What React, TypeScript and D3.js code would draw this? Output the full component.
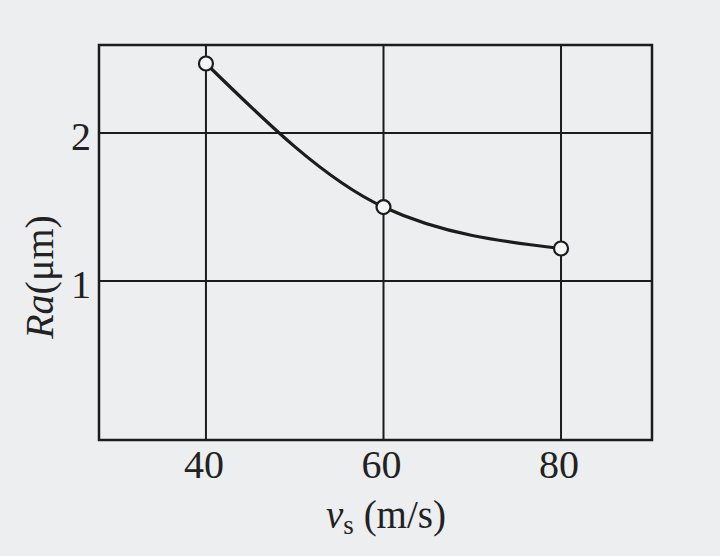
import React from "react";
import * as d3 from "d3";

const speeds = [40, 60, 80];
const roughness = [2.47, 1.5, 1.22];
const xTicks = [40, 60, 80];
const yTicks = [1, 2];

const W = 720;
const H = 556;
const left = 99, right = 652, top = 45, bottom = 440;

export default function App() {
  React.useEffect(() => {
    document.body.style.margin = "0";
  }, []);
  const x = d3.scaleLinear().domain([27.95, 90.25]).range([left, right]);
  const y = d3.scaleLinear().domain([-0.074, 2.595]).range([bottom, top]);
  const pts = speeds.map((s, i) => [s, roughness[i]] as [number, number]);
  const line = d3
    .line<[number, number]>()
    .x((d) => x(d[0]))
    .y((d) => y(d[1]))
    .curve(d3.curveMonotoneX);
  const ink = "#1c1c1c";
  const txt = "#222";
  const font = "'Liberation Serif', 'DejaVu Serif', serif";
  return (
    <svg width={W} height={H} style={{ display: "block", background: "#eceeef" }}>
      <rect x={0} y={0} width={W} height={H} fill="#eceeef" />
      {xTicks.map((t) => (
        <line key={"gx" + t} x1={x(t)} x2={x(t)} y1={top} y2={bottom} stroke={ink} strokeWidth={2} />
      ))}
      {yTicks.map((t) => (
        <line key={"gy" + t} x1={left} x2={right} y1={y(t)} y2={y(t)} stroke={ink} strokeWidth={2} />
      ))}
      <rect x={left} y={top} width={right - left} height={bottom - top} fill="none" stroke={ink} strokeWidth={2.5} />
      <path d={line(pts) || ""} fill="none" stroke={ink} strokeWidth={3.2} />
      {pts.map((p, i) => (
        <circle key={"c" + i} cx={x(p[0])} cy={y(p[1])} r={7} fill="#f4f5f5" stroke={ink} strokeWidth={2.2} />
      ))}
      {xTicks.map((t) => (
        <text key={"tx" + t} x={x(t) - 2} y={478} textAnchor="middle" fontFamily={font} fontSize={40} fill={txt}>
          {t}
        </text>
      ))}
      {yTicks.map((t) => (
        <text key={"ty" + t} x={91} y={y(t) + 3} dy="0.35em" textAnchor="end" fontFamily={font} fontSize={40} fill={txt}>
          {t}
        </text>
      ))}
      <text x={386} y={528} textAnchor="middle" fontFamily={font} fontSize={39} fill={txt}>
        <tspan fontStyle="italic">v</tspan>
        <tspan fontSize={27} dy={6}>s</tspan>
        <tspan dy={-6}> (m/s)</tspan>
      </text>
      <text
        transform={`translate(53, 277) rotate(-90)`}
        textAnchor="middle"
        fontFamily={font}
        fontSize={40}
        fill={txt}
      >
        <tspan fontStyle="italic">Ra</tspan>
        <tspan>(μm)</tspan>
      </text>
    </svg>
  );
}
